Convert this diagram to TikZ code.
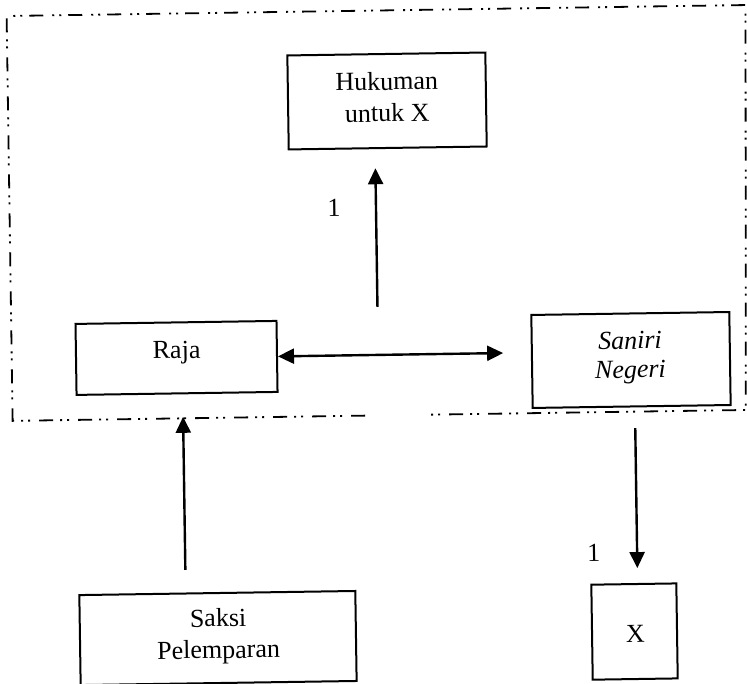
\documentclass[tikz,border=0pt]{standalone}
\usepackage{fontspec}
\setmainfont{Liberation Serif}
\usetikzlibrary{arrows.meta}
\begin{document}
\begin{tikzpicture}[x=1pt,y=1pt,
  box/.style 2 args={draw, line width=2pt, minimum width=#1, minimum height=#2, inner sep=0pt},
  word/.style={font=\fontsize{26}{32}\selectfont, anchor=base, inner sep=0pt},
  arr/.style={line width=2.4pt, -{Triangle[length=16pt,width=15pt]}},
  dbl/.style={line width=2.4pt, {Triangle[length=16pt,width=15pt]}-{Triangle[length=16pt,width=15pt]}},
  frame/.style={line width=1.8pt, dash pattern=on 14pt off 9pt on 2pt off 5pt on 2pt off 7pt}]
\useasboundingbox (0,0) rectangle (747,-684);
% the whole sheet sits slightly askew
\begin{scope}[rotate around={0.85:(373.5,-342)}, transform shape]
  % dash-dot frame around the upper part, open at the bottom
  \draw[frame] (364,-415.5) -- (11.5,-415.5) -- (11.5,-10.6) -- (750.5,-10.6)
               -- (744.8,-415.5) -- (426,-415.5);

  % boxes
  \node[box={198pt}{94pt}] (huk)    at (390.6,-101.2) {};
  \node[box={201pt}{71pt}] (raja)   at (176.3,-355)   {};
  \node[box={198pt}{93pt}] (saniri) at (630.7,-363.8) {};
  \node[box={276pt}{90pt}] (saksi)  at (213.6,-635.7) {};
  \node[box={85pt}{95pt}]  (xbox)   at (630.2,-635.4) {};

  % texts
  \node[word] (hukA) at (390.7,-90.2)  {Hukuman};
  \node[word] (hukB) at (390.7,-121.9) {untuk X};
  \node[word] (rajaT) at (176.5,-355.4) {Raja};
  \node[word] (sanA) at (630,-352.8) {\itshape Saniri};
  \node[word] (sanB) at (630,-381.8) {\itshape Negeri};
  \node[word] (sakA) at (214,-624.4) {Saksi};
  \node[word] (sakB) at (214,-656)   {Pelemparan};
  \node[word] (xT)   at (631,-645.9) {X};
  \node[word] (oneA) at (335.9,-216.1) {1};
  \node[word] (oneB) at (590.7,-564.9) {1};

  % free arrow ends
  \coordinate (upFoot)  at (378,-307);
  \coordinate (upTip)   at (378,-168.3);
  \coordinate (dblTip)  at (503,-355);
  \coordinate (sakFoot) at (182,-567);
  \coordinate (sakTip)  at (182,-414);
  \coordinate (dnFoot)  at (634,-432);
  \coordinate (dnTip)   at (634,-572);

  % connectors
  \draw[arr] (upFoot) -- (upTip);
  \draw[dbl] (raja.east) -- (dblTip);
  \draw[arr] (sakFoot) -- (sakTip);
  \draw[arr] (dnFoot) -- (dnTip);
\end{scope}
\end{tikzpicture}
\end{document}
